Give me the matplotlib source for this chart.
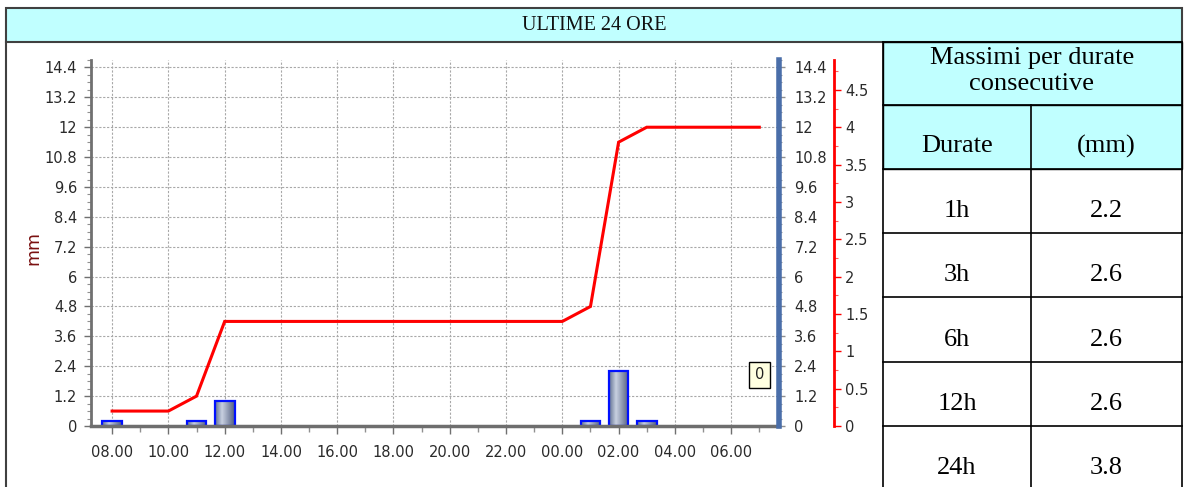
import matplotlib
matplotlib.use("Agg")
import matplotlib.pyplot as plt
import numpy as np
from matplotlib.patches import Rectangle
from matplotlib.lines import Line2D
from matplotlib.ticker import FixedLocator, MultipleLocator, FuncFormatter

# ---------------- data
# hours counted from 08.00 (0) to 07.00 of the next day (23)
tick_hours = [0, 2, 4, 6, 8, 10, 12, 14, 16, 18, 20, 22]
tick_labels = ["08.00", "10.00", "12.00", "14.00", "16.00", "18.00",
               "20.00", "22.00", "00.00", "02.00", "04.00", "06.00"]

bar_hours = [0, 3, 4, 17, 18, 19]
bar_mm = [0.2, 0.2, 1.0, 0.2, 2.2, 0.2]

cum_hours = list(range(24))
cum_mm = [0.2, 0.2, 0.2, 0.4, 1.4, 1.4, 1.4, 1.4, 1.4, 1.4, 1.4, 1.4,
          1.4, 1.4, 1.4, 1.4, 1.4, 1.6, 3.8, 4.0, 4.0, 4.0, 4.0, 4.0]

last_label = "0"
last_hour = 23
last_y = 2.05

durate = ["1h", "3h", "6h", "12h", "24h"]
massimi = ["2.2", "2.6", "2.6", "2.6", "3.8"]

left_ticks = [0, 1.2, 2.4, 3.6, 4.8, 6, 7.2, 8.4, 9.6, 10.8, 12, 13.2, 14.4]
red_ticks = [0, 0.5, 1, 1.5, 2, 2.5, 3, 3.5, 4, 4.5]

# ---------------- figure
W, H = 1186, 487
fig = plt.figure(figsize=(W / 100, H / 100), dpi=100)
fig.patch.set_facecolor("white")


def fx(px):
    return px / W


def fy(py):
    return 1 - py / H


CYAN = "#C0FFFF"
GRAYTXT = "#2A2A2A"
LBL = 10.5
ymax = 14.7

ax = fig.add_axes([fx(91), fy(426), fx(779) - fx(91), fy(60) - fy(426)])
ax.set_xlim(-0.75, 23.7)
ax.set_ylim(0, ymax)

# bars with gradient fill
bars = ax.bar(bar_hours, bar_mm, width=0.7, facecolor="none",
              edgecolor="#0010FF", linewidth=1.6, zorder=4)
prof = np.linspace(0, 1, 60)
r = np.interp(prof, [0, 0.35, 1], [0x60, 0xC8, 0x52]) / 255
g = np.interp(prof, [0, 0.35, 1], [0x70, 0xD0, 0x5E]) / 255
b = np.interp(prof, [0, 0.35, 1], [0x92, 0xE0, 0x80]) / 255
grad = np.dstack([r, g, b])
for rect in bars:
    x0, y0 = rect.get_x(), rect.get_y()
    im = ax.imshow(grad, extent=[x0, x0 + rect.get_width(), y0, y0 + rect.get_height()],
                   aspect="auto", zorder=3, interpolation="bilinear")
    im.set_clip_path(rect)
ax.set_xlim(-0.75, 23.7)
ax.set_ylim(0, ymax)

# grid
ax.xaxis.set_major_locator(FixedLocator(tick_hours))
ax.xaxis.set_minor_locator(MultipleLocator(1))
ax.set_xticklabels(tick_labels)
ax.yaxis.set_major_locator(FixedLocator(left_ticks))
ax.yaxis.set_minor_locator(MultipleLocator(0.3))
ax.yaxis.set_major_formatter(FuncFormatter(lambda v, p: "{:g}".format(round(v, 1))))
ax.grid(True, which="major", color="#A8A8A8", linestyle=(0, (2, 1.5)), linewidth=0.8, zorder=0)
ax.set_axisbelow(True)

for s in ["top", "right"]:
    ax.spines[s].set_visible(False)
ax.spines["left"].set_color("#707070")
ax.spines["left"].set_linewidth(2)
ax.spines["bottom"].set_color("#6E6E6E")
ax.spines["bottom"].set_linewidth(2.5)
ax.spines["bottom"].set_zorder(5)
ax.tick_params(axis="x", which="major", length=6, width=1, color="#707070",
               labelsize=LBL, labelcolor=GRAYTXT, pad=8)
ax.tick_params(axis="x", which="minor", length=4, width=1, color="#909090")
ax.tick_params(axis="y", which="major", length=5, width=1, color="#707070",
               labelsize=LBL, labelcolor=GRAYTXT, pad=5)
ax.tick_params(axis="y", which="minor", length=3, width=0.8, color="#909090")

# blue right axis (same scale)
ax3 = ax.twinx()
ax3.set_ylim(0, ymax)
ax3.yaxis.set_major_locator(FixedLocator(left_ticks))
ax3.yaxis.set_minor_locator(MultipleLocator(0.3))
ax3.yaxis.set_major_formatter(FuncFormatter(lambda v, p: "{:g}".format(round(v, 1))))
for s in ["top", "left", "bottom"]:
    ax3.spines[s].set_visible(False)
ax3.spines["right"].set_color("#4A6EA9")
ax3.spines["right"].set_linewidth(4)
ax3.tick_params(axis="y", which="major", length=4, width=1, color="#909090",
                labelsize=LBL, labelcolor=GRAYTXT, pad=7)
ax3.tick_params(axis="y", which="minor", length=2.5, width=0.8, color="#A0A0A0")

# red cumulative axis
ax2 = ax.twinx()
ax2.set_ylim(0, ymax / 3)
ax2.set_xlim(-0.75, 23.7)
for s in ["top", "left", "bottom"]:
    ax2.spines[s].set_visible(False)
ax2.spines["right"].set_position(("axes", (834 - 91) / (779 - 91)))
ax2.spines["right"].set_color("#FF0000")
ax2.spines["right"].set_linewidth(2)
ax2.yaxis.set_major_locator(FixedLocator(red_ticks))
ax2.yaxis.set_minor_locator(MultipleLocator(0.25))
ax2.yaxis.set_major_formatter(FuncFormatter(lambda v, p: "{:g}".format(v)))
ax2.tick_params(axis="y", which="major", length=5, width=1, color="#FF0000",
                labelsize=LBL, labelcolor=GRAYTXT, pad=3)
ax2.tick_params(axis="y", which="minor", length=3, width=0.8, color="#FF6060")
ax2.plot(cum_hours, cum_mm, color="#FF0000", linewidth=2.2, solid_joinstyle="miter", zorder=5)

ax2.text(last_hour, last_y, last_label, transform=ax.transData, ha="center", va="center",
         fontsize=LBL, color="#222222", zorder=6,
         bbox=dict(boxstyle="square,pad=0.4", facecolor="#FFFFE0", edgecolor="#000000", linewidth=1))

fig.text(fx(33), fy(248), "mm", rotation=90, ha="center", va="center",
         fontsize=12.5, color="#7A1010")

# ---------------- frames and table
def box(x0, y0, x1, y1, fc, ec="#000000", lw=1.0):
    fig.add_artist(Rectangle((fx(x0), fy(y1)), fx(x1) - fx(x0), fy(y0) - fy(y1),
                             transform=fig.transFigure, facecolor=fc, edgecolor=ec,
                             linewidth=lw, zorder=0))


def hline(x0, x1, y, color="#000000", lw=1.0):
    fig.add_artist(Line2D([fx(x0), fx(x1)], [fy(y), fy(y)], transform=fig.transFigure,
                          color=color, linewidth=lw))


def vline(x, y0, y1, color="#000000", lw=1.0):
    fig.add_artist(Line2D([fx(x), fx(x)], [fy(y0), fy(y1)], transform=fig.transFigure,
                          color=color, linewidth=lw))


# title band
box(6, 8, 1182, 42, CYAN, ec="#404040", lw=1.5)
fig.text(fx(594), fy(26), "ULTIME 24 ORE", ha="center", va="center",
         family="Liberation Serif", fontsize=14.5, color="#111111")

# chart frame sides
vline(6, 42, 487, color="#404040", lw=1.5)

# table
tx0, tx1, tmid = 883, 1182, 1031
row_edges = [42, 105, 169, 233, 297, 362, 426, 490]
box(tx0, 42, tx1, 105, CYAN)
box(tx0, 105, tx1, 169, CYAN)
vline(tx0, 42, 487, lw=1.2)
vline(tx1, 42, 487, lw=1.2)
vline(tmid, 105, 487, lw=1.2)
for yy in row_edges[:-1]:
    hline(tx0, tx1, yy, lw=1.2)

tfont = dict(family="Liberation Serif", fontsize=19, color="#000000", ha="center", va="center")
fig.text(fx(1032), fy(58), "Massimi per durate", **tfont)
fig.text(fx(1032), fy(84), "consecutive", **tfont)
fig.text(fx((tx0 + tmid) / 2), fy(146), "Durate", **tfont)
fig.text(fx((tmid + tx1) / 2), fy(146), "(mm)", **tfont)
for i, (d, m) in enumerate(zip(durate, massimi)):
    yc = (row_edges[i + 2] + row_edges[i + 3]) / 2 + 10
    fig.text(fx((tx0 + tmid) / 2), fy(yc), d, **tfont)
    fig.text(fx((tmid + tx1) / 2), fy(yc), m, **tfont)

fig.savefig("out.png", dpi=100)
